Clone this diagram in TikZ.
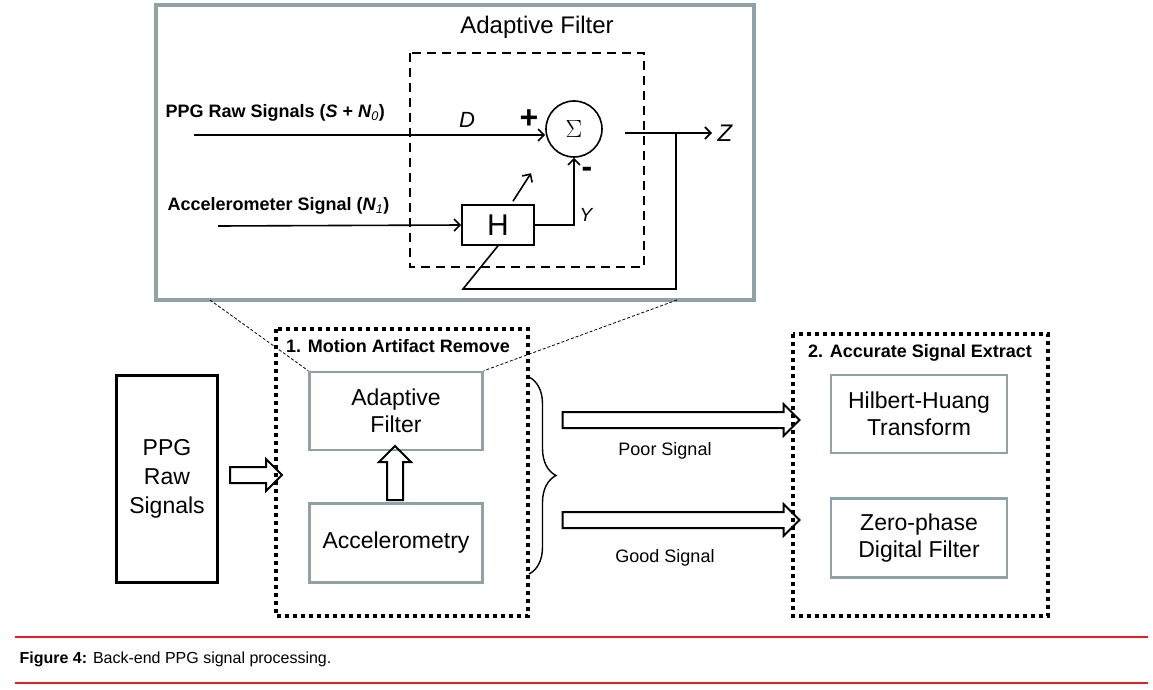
\documentclass[tikz,border=0pt]{standalone}
\usepackage{fontspec}
\setmainfont{Liberation Sans}
\usetikzlibrary{arrows.meta, shapes.arrows, decorations.pathreplacing}
\definecolor{frame}{RGB}{143,163,166}
\definecolor{capred}{RGB}{230,30,40}
\tikzset{
    block/.style={draw=frame, line width=2.5pt, fill=white, align=center, inner sep=0pt, font=\fontsize{23}{27}\selectfont},
    dotbox/.style={draw, line width=4.5pt, dash pattern=on 4pt off 4pt},
    hollow/.style={single arrow, draw, line width=2pt, inner sep=0pt, minimum width=0pt, single arrow head extend=8pt, single arrow head indent=0pt},
    lbl/.style={font=\fontsize{18}{22}\selectfont\bfseries},
    sig/.style={-{Straight Barb[length=6pt]}, line width=1.6pt}
}
\newcommand{\shaft}{\rule{0pt}{14pt}}
\begin{document}
\begin{tikzpicture}[x=1pt, y=-1pt]
    \useasboundingbox (0,0) rectangle (1153,690);
    % Zoomed adaptive filter
    \draw[frame, line width=4pt, fill=white] (156,5) rectangle (754,300);
    \node[font=\fontsize{24}{28}\selectfont] (title) at (537,27) {Adaptive Filter};
    \draw[line width=1.6pt, dash pattern=on 9pt off 6pt] (410,53) rectangle (644,267);
    \node[draw, circle, line width=1.6pt, minimum size=56pt, inner sep=0pt, font=\fontsize{38}{38}\selectfont] (sum) at (574,129) {$\Sigma$};
    \node[draw, line width=1.6pt, minimum width=72pt, minimum height=40pt, font=\fontsize{30}{30}\selectfont] (h) at (498,225) {H};
    \node[lbl, anchor=west] (ppg) at (162,113) {PPG Raw Signals (\textit{S} + \textit{N}$_{\mathit{0}}$)};
    \node[lbl, anchor=west] (acc) at (164,206) {Accelerometer Signal (\textit{N}$_{\mathit{1}}$)};
    \coordinate (ppgin) at (194,135);
    \coordinate (accin) at (218,226);
    \coordinate (out) at (625,133);
    \coordinate (z) at (712,133);
    \coordinate (tap) at (676,133);
    \coordinate (fb) at (463,289);
    \node[font=\fontsize{22}{24}\selectfont\itshape] (d) at (467,120) {D};
    \node[font=\fontsize{32}{32}\selectfont\bfseries] (plus) at (529,119) {+};
    \node[font=\fontsize{32}{32}\selectfont\bfseries] (minus) at (587,172) {-};
    \node[font=\fontsize{19}{20}\selectfont\itshape] (y) at (586,215) {Y};
    \node[font=\fontsize{24}{24}\selectfont\itshape, anchor=west] (zl) at (714,133) {Z};
    \draw[sig] (ppgin) -- (ppgin -| sum.west);
    \draw[sig] (accin) -- (h.west);
    \draw[sig] (h.east) -| (sum.south);
    \draw[sig] (out) -- (z);
    \draw[line width=1.6pt] (tap) |- (fb) -- (h.south);
    \draw[sig] (h.north) ++(15,-3) -- ++(18,-28);
    % Main chain
    \node[draw, line width=2.5pt, minimum width=101pt, minimum height=207pt, align=center, font=\fontsize{23}{27}\selectfont] (raw) at (167,479) {PPG\\[2pt]Raw\\[2pt]Signals};
    \draw[dotbox] (276,329) rectangle (528,616);
    \node[lbl, anchor=north] (mar) at (398,336) {1. Motion Artifact Remove};
    \node[block, minimum width=173pt, minimum height=78pt] (adf) at (396,411) {Adaptive\\Filter};
    \node[block, minimum width=173pt, minimum height=79pt] (accm) at (396,543) {Accelerometry};
    \draw[dotbox] (793,334) rectangle (1048,616);
    \node[lbl, anchor=north] (ase) at (920,341) {2. Accurate Signal Extract};
    \node[block, minimum width=176pt, minimum height=78pt] (hht) at (919,414) {Hilbert-Huang\\Transform};
    \node[block, minimum width=176pt, minimum height=79pt] (zpf) at (919,538) {Zero-phase\\Digital Filter};
    \node[hollow, minimum height=52pt] (a1) at (252,475) {\shaft};
    \node[hollow, minimum height=54pt, rotate=90] (a2) at (395,477) {\shaft};
    \node[hollow, minimum height=237pt] (poor) at (677,420) {\shaft};
    \node[hollow, minimum height=237pt] (good) at (677,520) {\shaft};
    \node[font=\fontsize{18}{22}\selectfont] (pl) at (665,451) {Poor Signal};
    \node[font=\fontsize{18}{22}\selectfont] (gl) at (665,558) {Good Signal};
    \draw[line width=1.4pt, decorate, decoration={brace, amplitude=27pt}] (529,377) -- (529,574);
    % Zoom lines
    \draw[line width=0.8pt, dash pattern=on 3pt off 2pt] (210,300) -- (adf.north west);
    \draw[line width=0.8pt, dash pattern=on 3pt off 2pt] (677,300) -- (adf.north east);
    % Caption
    \draw[capred, line width=2.5pt] (15,637) -- (1148,637);
    \draw[capred, line width=2.5pt] (15,683) -- (1148,683);
    \node[anchor=west, font=\fontsize{16}{19}\selectfont] (cap) at (16,659) {\textbf{Figure 4:} Back-end PPG signal processing.};
\end{tikzpicture}
\end{document}
